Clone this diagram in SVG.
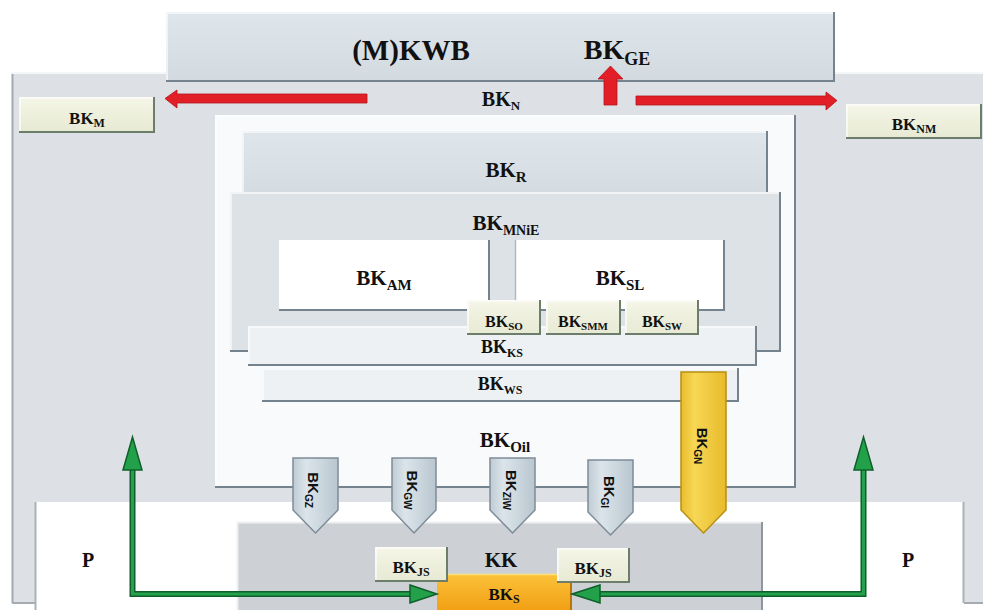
<svg xmlns="http://www.w3.org/2000/svg" width="983" height="610" viewBox="0 0 983 610">
<defs>
<linearGradient id="gBlue" x1="0" y1="0" x2="0" y2="1"><stop offset="0" stop-color="#dfe6eb"/><stop offset="1" stop-color="#d2dae0"/></linearGradient>
<linearGradient id="gTag" x1="0" y1="0" x2="0" y2="1"><stop offset="0" stop-color="#f5f6e8"/><stop offset="1" stop-color="#e6e9d2"/></linearGradient>
<linearGradient id="gOrange" x1="0" y1="0" x2="0" y2="1"><stop offset="0" stop-color="#fbc23a"/><stop offset="1" stop-color="#f19e12"/></linearGradient>
<linearGradient id="gYellow" x1="0" y1="0" x2="1" y2="0"><stop offset="0" stop-color="#e9bd2c"/><stop offset="0.3" stop-color="#f7d755"/><stop offset="1" stop-color="#e8bb2a"/></linearGradient>
<linearGradient id="gArrow" x1="0" y1="0" x2="1" y2="0"><stop offset="0" stop-color="#bfcbd4"/><stop offset="0.3" stop-color="#dbe4ea"/><stop offset="1" stop-color="#b9c6cf"/></linearGradient>
</defs>
<style>
.dk{fill:none;stroke:#75838e;stroke-width:2}
.lt{fill:none;stroke:#ffffff;stroke-width:1.5;opacity:0.8}
.tagdk{fill:none;stroke:#6d7d6c;stroke-width:2}
.t{font-family:"Liberation Serif","DejaVu Serif",serif;font-weight:bold;fill:#111;text-anchor:middle}
.r{font-family:"Liberation Sans","DejaVu Sans",sans-serif;font-weight:bold;fill:#111;text-anchor:middle;font-size:15px}
.red{fill:#e21f26;stroke:#b3141a;stroke-width:0.8}
.gl{fill:none;stroke:#0f5f2b;stroke-width:6}
.gi{fill:none;stroke:#24a14c;stroke-width:3}
.gh{fill:#22a04a;stroke:#0f5f2b;stroke-width:1.5}
.arr{fill:url(#gArrow);stroke:#7e8c97;stroke-width:1.5}
</style>

<g id="outer-panel">
<rect x="12" y="73" width="975" height="530" fill="#dde1e5"/>
<path d="M12,603 V73 H987" fill="none" stroke="#f4f6f7" stroke-width="2"/>
<path d="M12.5,74 V603" stroke="#a4acb2" stroke-width="2" fill="none"/>
<path d="M12,603 H35" stroke="#a4acb2" stroke-width="2" fill="none"/>
<path d="M964,603 H983" stroke="#a4acb2" stroke-width="2" fill="none"/>
<rect x="35" y="502" width="929" height="110" fill="#ffffff"/>
<path d="M35.5,502 V610" stroke="#aab1b7" stroke-width="2" fill="none"/>
<path d="M963.5,502 V603" stroke="#aab1b7" stroke-width="2" fill="none"/>
</g>

<g id="node-mkwb">
<rect x="166" y="12" width="669" height="70" fill="url(#gBlue)"/>
<path class="lt" d="M167,81 V13 H834"/>
<path class="dk" d="M166,81 H834 V12"/>
<text class="t" x="411" y="60" font-size="29">(M)KWB</text>
<text class="t" x="617" y="59" font-size="28">BK<tspan font-size="18" dy="6">GE</tspan></text>
</g>

<g id="node-bkn-label">
<text class="t" x="501" y="106" font-size="20">BK<tspan font-size="13" dy="4">N</tspan></text>
</g>

<g id="node-bkm">
<rect x="19" y="97" width="136" height="36" fill="url(#gTag)"/>
<path class="lt" d="M20,132 V98 H154"/>
<path class="tagdk" d="M19,132 H154 V97"/>
<text class="t" x="87" y="124" font-size="17">BK<tspan font-size="12" dy="3">M</tspan></text>
</g>

<g id="node-bknm">
<rect x="846" y="104" width="136" height="35" fill="url(#gTag)"/>
<path class="lt" d="M847,138 V105 H981"/>
<path class="tagdk" d="M846,138 H981 V104"/>
<text class="t" x="914" y="130" font-size="17">BK<tspan font-size="12" dy="3">NM</tspan></text>
</g>

<g id="node-bkoil">
<rect x="215" y="115" width="581" height="373" fill="#f8fafc"/>
<path class="lt" d="M216,487 V116 H795"/>
<path class="dk" d="M215,487 H795 V115"/>
<text class="t" x="505" y="447" font-size="21">BK<tspan font-size="15" dy="5">Oil</tspan></text>
</g>

<g id="node-bkr">
<rect x="242" y="131" width="526" height="71" fill="url(#gBlue)"/>
<path class="lt" d="M243,201 V132 H767"/>
<path class="dk" d="M242,201 H767 V131"/>
<text class="t" x="506" y="177" font-size="21">BK<tspan font-size="15" dy="5">R</tspan></text>
</g>

<g id="node-bkmnie">
<rect x="230" y="192" width="551" height="160" fill="#dde2e6"/>
<path class="lt" d="M231,351 V193 H780"/>
<path class="dk" d="M230,351 H780 V192"/>
<text class="t" x="506" y="230" font-size="21">BK<tspan font-size="14" dy="5">MNiE</tspan></text>
</g>

<g id="node-bkam">
<rect x="279" y="240" width="211" height="71" fill="#ffffff"/>
<path class="dk" d="M279,310 H489 V240"/>
<text class="t" x="384" y="285" font-size="21">BK<tspan font-size="15" dy="5">AM</tspan></text>
</g>

<g id="node-bksl">
<rect x="515" y="240" width="210" height="71" fill="#ffffff"/>
<path class="dk" d="M515,310 H724 V240"/>
<path d="M515.5,240 V310" stroke="#b0b8be" stroke-width="1.5" fill="none"/>
<text class="t" x="620" y="285" font-size="21">BK<tspan font-size="15" dy="5">SL</tspan></text>
</g>

<g id="node-bkks">
<rect x="248" y="326" width="509" height="40" fill="#eef1f3"/>
<path class="lt" d="M249,365 V327 H756"/>
<path class="dk" d="M248,365 H756 V326"/>
<text class="t" x="502" y="353" font-size="18">BK<tspan font-size="12" dy="4">KS</tspan></text>
</g>

<g id="node-bkso">
<rect x="467" y="300" width="74" height="35" fill="url(#gTag)"/>
<path class="lt" d="M468,334 V301 H540"/>
<path class="tagdk" d="M467,334 H540 V300"/>
<text class="t" x="504" y="327" font-size="16">BK<tspan font-size="11" dy="3">SO</tspan></text>
</g>

<g id="node-bksmm">
<rect x="546" y="300" width="75" height="35" fill="url(#gTag)"/>
<path class="lt" d="M547,334 V301 H620"/>
<path class="tagdk" d="M546,334 H620 V300"/>
<text class="t" x="583" y="327" font-size="16">BK<tspan font-size="11" dy="3">SMM</tspan></text>
</g>

<g id="node-bksw">
<rect x="625" y="300" width="74" height="35" fill="url(#gTag)"/>
<path class="lt" d="M626,334 V301 H698"/>
<path class="tagdk" d="M625,334 H698 V300"/>
<text class="t" x="662" y="327" font-size="16">BK<tspan font-size="11" dy="3">SW</tspan></text>
</g>

<g id="node-bkws">
<rect x="262" y="368" width="477" height="34" fill="#eef1f3"/>
<path class="lt" d="M263,401 V369 H738"/>
<path class="dk" d="M262,401 H738 V368"/>
<text class="t" x="500" y="390" font-size="18">BK<tspan font-size="12" dy="4">WS</tspan></text>
</g>

<g id="node-kk">
<rect x="237" y="522" width="526" height="90" fill="#cdd0d4"/>
<path d="M237.5,612 V522.5 H762" fill="none" stroke="#eef0f2" stroke-width="2"/>
<path d="M762,522 V612" fill="none" stroke="#8f979d" stroke-width="2"/>
<text class="t" x="501" y="567" font-size="21">KK</text>
</g>

<g id="node-p-left"><text class="t" x="88" y="567" font-size="20">P</text></g>
<g id="node-p-right"><text class="t" x="908" y="567" font-size="20">P</text></g>

<g id="node-bkgz">
<polygon class="arr" points="293,458 338,458 338,510 315.5,533 293,510"/>
<text class="r" transform="translate(308,490) rotate(90)">BK<tspan font-size="10" dy="3">GZ</tspan></text>
</g>
<g id="node-bkgw">
<polygon class="arr" points="392,458 436,458 436,510 414,533 392,510"/>
<text class="r" transform="translate(407,490) rotate(90)">BK<tspan font-size="10" dy="3">GW</tspan></text>
</g>
<g id="node-bkziw">
<polygon class="arr" points="490,458 535,458 535,510 512.5,533 490,510"/>
<text class="r" transform="translate(506,490) rotate(90)">BK<tspan font-size="10" dy="3">ZiW</tspan></text>
</g>
<g id="node-bkgi">
<polygon class="arr" points="588,460 633,460 633,512 610.5,535 588,512"/>
<text class="r" transform="translate(604,492) rotate(90)">BK<tspan font-size="10" dy="3">GI</tspan></text>
</g>
<g id="node-bkgn">
<polygon points="681,372 726,372 726,510 703.5,533 681,510" fill="url(#gYellow)" stroke="#b88f12" stroke-width="1.5"/>
<text class="r" transform="translate(697,446) rotate(90)">BK<tspan font-size="10" dy="3">GN</tspan></text>
</g>

<g id="node-bks">
<rect x="437" y="574" width="135" height="38" fill="url(#gOrange)"/>
<path d="M437,574.5 H572" stroke="#fde27a" stroke-width="1.5" fill="none"/>
<path d="M571,574 V612" stroke="#b9740a" stroke-width="2" fill="none"/>
<text class="t" x="504" y="600" font-size="17">BK<tspan font-size="12" dy="3">S</tspan></text>
</g>

<g id="node-bkjs-left">
<rect x="375" y="547" width="73" height="35" fill="url(#gTag)"/>
<path class="lt" d="M376,581 V548 H447"/>
<path class="tagdk" d="M375,581 H447 V547"/>
<text class="t" x="411" y="573" font-size="17">BK<tspan font-size="12" dy="3">JS</tspan></text>
</g>
<g id="node-bkjs-right">
<rect x="557" y="548" width="73" height="35" fill="url(#gTag)"/>
<path class="lt" d="M558,582 V549 H629"/>
<path class="tagdk" d="M557,582 H629 V548"/>
<text class="t" x="593" y="574" font-size="17">BK<tspan font-size="12" dy="3">JS</tspan></text>
</g>

<g id="connectors">
<polygon class="red" points="367,94 177,94 177,90 165,98.5 177,108 177,103 367,103"/>
<polygon class="red" points="636,96 826,96 826,92 837,100.5 826,110 826,105 636,105"/>
<polygon class="red" points="604,105 604,79 598,79 610.5,66 623,79 617,79 617,105"/>
<path class="gl" d="M132.5,470 V594 H411"/>
<path class="gi" d="M132.5,470 V594 H411"/>
<polygon class="gh" points="123,470 132.5,437 142,470"/>
<polygon class="gh" points="410,585 437,594 410,603"/>
<path class="gl" d="M863.5,470 V594 H599"/>
<path class="gi" d="M863.5,470 V594 H599"/>
<polygon class="gh" points="854,470 863.5,437 873,470"/>
<polygon class="gh" points="600,585 572,594 600,603"/>
</g>
</svg>
